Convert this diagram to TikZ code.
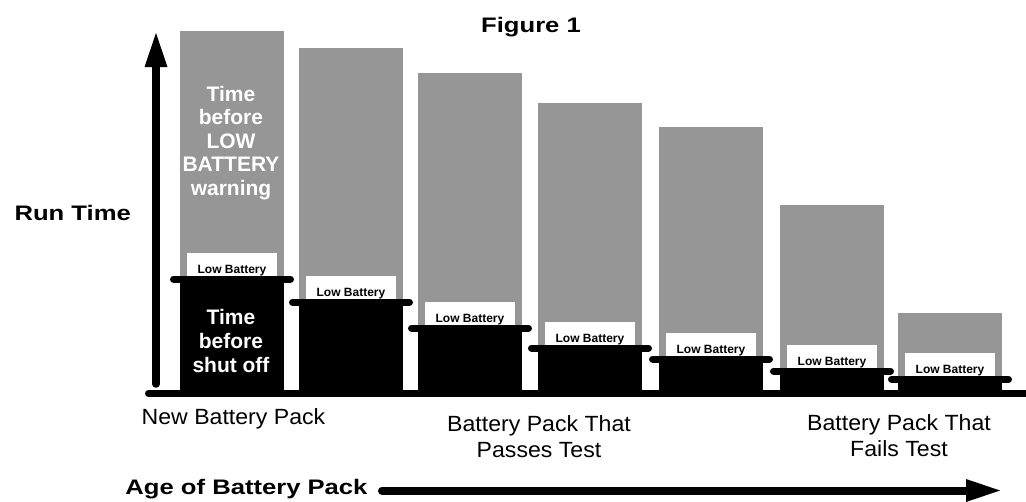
\documentclass[tikz,border=0pt]{standalone}
\usepackage{fontspec}
\setmainfont{Liberation Sans}
\newfontfamily\regw[FakeStretch=1.05]{Liberation Sans}
\newfontfamily\boldw[FakeStretch=1.22]{Liberation Sans}
\definecolor{bargray}{RGB}{150,150,150}
\tikzset{
  graybar/.style={fill=bargray},
  blackbar/.style={fill=black},
  lowline/.style={line width=7pt, line cap=round},
  lowbox/.style={fill=white, minimum width=90pt, minimum height=25pt, inner sep=0pt,
    text height=17.6pt, text depth=2.5pt, font=\fontsize{12}{14}\selectfont\bfseries, anchor=north},
  axisline/.style={line width=7.5pt, line cap=round},
  lbl/.style={inner sep=0pt, align=center, font=\regw\fontsize{22}{26}\selectfont},
  boldlbl/.style={inner sep=0pt, font=\boldw\bfseries\fontsize{21}{24}\selectfont},
  bartext/.style={inner sep=0pt, align=center, text=white, anchor=north}
}
\begin{document}
\begin{tikzpicture}[x=1pt,y=-1pt]
\useasboundingbox (0,0) rectangle (1026,501);
% bars
\foreach \i/\xl/\tp/\ly in {1/180/31/279, 2/299/48/302, 3/418/73/328, 4/538/103/348, 5/659/127/359, 6/780/205/371, 7/898/313/379}{
  \fill[graybar] (\xl,\tp) rectangle (\xl+104,\ly);
  \fill[blackbar] (\xl,\ly) rectangle (\xl+104,391);
  \node[lowbox] (lb\i) at (\xl+52,\ly-26) {Low Battery};
  \coordinate (ll\i) at (\xl-6.5,\ly);
  \coordinate (lr\i) at (\xl+110.5,\ly);
  \draw[lowline] (ll\i) -- (lr\i);
}
% horizontal base line
\coordinate (o) at (148.5,393.5);
\coordinate (xe) at (1032,393.5);
\draw[line width=7pt, line cap=round] (o) -- (xe);
% vertical axis
\coordinate (ya) at (156,384);
\coordinate (yb) at (156,64);
\coordinate (ytip) at (156,33);
\draw[axisline] (ya) -- (yb);
\fill (ytip) -- (144.5,67) -- (167.5,67) -- cycle;
% texts
\node[boldlbl, anchor=base] (fig) at (531,32) {Figure 1};
\node[boldlbl, anchor=base east] (run) at (131,220) {Run Time};
\node[boldlbl, anchor=base] (age) at (246.5,494) {Age of Battery Pack};
\node[lbl, anchor=base] (new) at (233.5,424) {New Battery Pack};
\node[lbl, anchor=north] (pass) at (539,415) {Battery Pack That\\Passes Test};
\node[lbl, anchor=north] (fail) at (899,414) {Battery Pack That\\Fails Test};
\node[bartext, font=\bfseries\fontsize{21}{23.5}\selectfont] (warn) at (231,86) {Time\\before\\LOW\\BATTERY\\warning};
\node[bartext, font=\bfseries\fontsize{21}{24}\selectfont] (shut) at (231,309) {Time\\before\\shut off};
% age arrow
\coordinate (aa) at (382,490.5);
\coordinate (ab) at (968,490.5);
\coordinate (atip) at (1000,490.5);
\draw[line width=8pt, line cap=round] (aa) -- (ab);
\fill (atip) -- (966,479) -- (966,502) -- cycle;
\end{tikzpicture}
\end{document}
